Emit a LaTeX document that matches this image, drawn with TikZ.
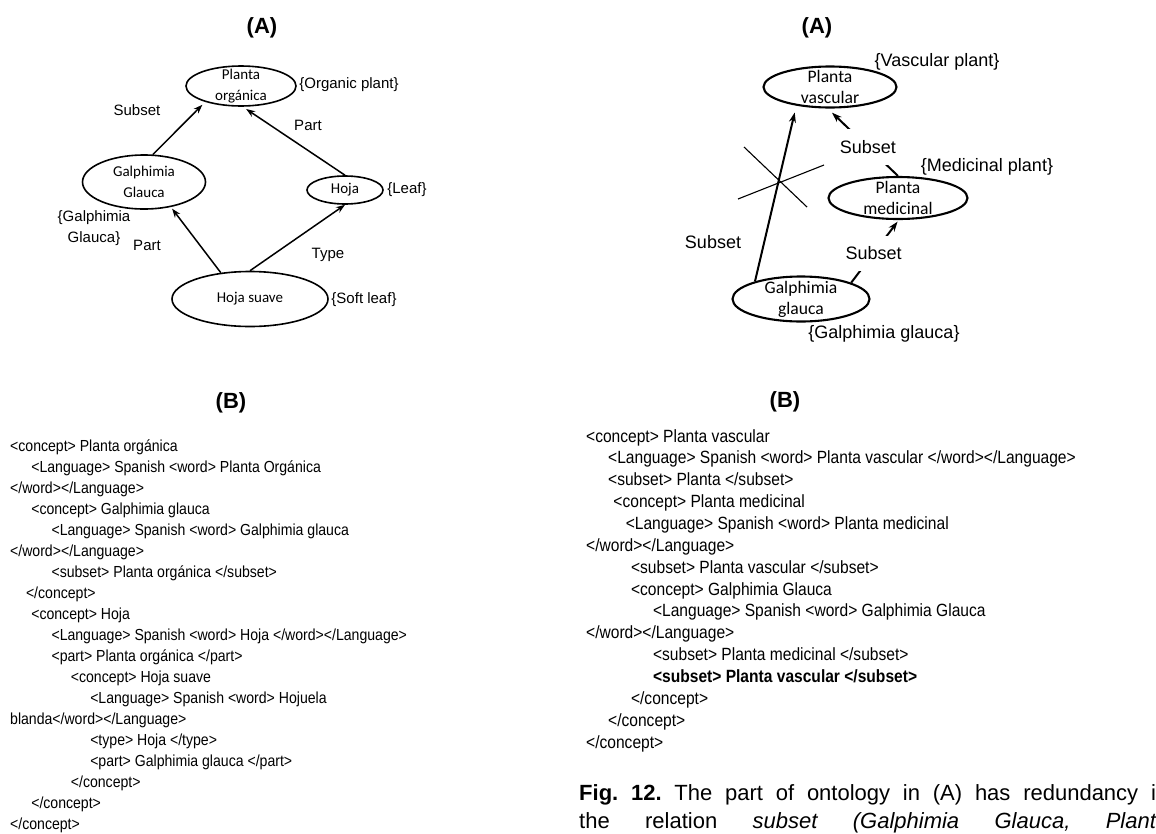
\documentclass[tikz,border=0pt]{standalone}
\usepackage{fontspec}
\setmainfont{Liberation Sans}
\newfontfamily\calib{Carlito}
\usetikzlibrary{shapes,arrows.meta}

\tikzset{
  lcon/.style={draw, ellipse, line width=1.6pt, inner sep=0pt},
  rcon/.style={draw, ellipse, line width=2.1pt, inner sep=0pt},
  ltxt/.style={align=center, font=\calib\fontsize{15}{20.5}\selectfont},
  rtxt/.style={align=center, font=\calib\fontsize{17.6}{21}\selectfont},
  llbl/.style={align=center, font=\fontsize{15}{21}\selectfont, inner sep=0pt},
  rlbl/.style={align=center, font=\fontsize{18}{22}\selectfont, inner sep=0pt},
  larr/.style={-{Stealth[length=9pt,width=6.5pt]}, line width=1.5pt},
  rarr/.style={-{Stealth[length=10pt,width=7pt]}, line width=2pt},
  code/.style={anchor=north west, align=left, inner sep=0pt, xscale=.88, transform shape},
  ttl/.style={font=\bfseries\fontsize{22}{26}\selectfont}
}

\begin{document}
\begin{tikzpicture}[x=1pt, y=-1pt]
\useasboundingbox (0,0) rectangle (1156,833);
\fill[white] (0,0) rectangle (1156,833);
\clip (0,0) rectangle (1156,833);

% left ontology
\node[ttl] (tA1) at (262,28) {(A)};
\node[lcon, minimum width=110pt, minimum height=40pt, label={[ltxt]center:Planta\\orgánica}] (po) at (241,86) {};
\node[lcon, minimum width=123pt, minimum height=54pt, label={[ltxt]center:Galphimia\\Glauca}] (gg) at (144,182) {};
\node[lcon, minimum width=76pt, minimum height=28pt, label={[ltxt]center:Hoja}] (ho) at (345,190) {};
\node[lcon, minimum width=156pt, minimum height=55pt, label={[ltxt]center:Hoja suave}] (hs) at (250,299) {};
\node[llbl] (eorg) at (349,85) {\{Organic plant\}};
\node[llbl] (egal) at (94,228) {\{Galphimia\\Glauca\}};
\node[llbl] (eleaf) at (407,190) {\{Leaf\}};
\node[llbl] (esoft) at (364,300) {\{Soft leaf\}};
\node[llbl] (lsub) at (137,110) {Subset};
\node[llbl] (lpart1) at (308,125) {Part};
\node[llbl] (lpart2) at (147,245) {Part};
\node[llbl] (ltype) at (328,255) {Type};
\draw[larr, shorten >=4pt] (gg.72) -- (po.204);
\draw[larr, shorten >=4pt] (ho.north) -- (po.-85);
\draw[larr, shorten >=2pt] (hs.138) -- (gg.-43);
\draw[larr] (hs.north) -- (ho.south);

% right ontology
\node[ttl] (tA2) at (817,28) {(A)};
\node[rcon, minimum width=133pt, minimum height=41pt, label={[rtxt]center:Planta\\vascular}] (pv) at (830,87) {};
\node[rcon, minimum width=139pt, minimum height=42pt, label={[rtxt]center:Planta\\medicinal}] (pm) at (898,198) {};
\node[rcon, minimum width=137pt, minimum height=45pt, label={[rtxt]center:Galphimia\\glauca}] (gr) at (801,299) {};
\node[rlbl] (evasc) at (937,62) {\{Vascular plant\}};
\node[rlbl] (emed) at (987,167) {\{Medicinal plant\}};
\node[rlbl] (egal2) at (884,334) {\{Galphimia glauca\}};
\node[rlbl] (rsub) at (713,242) {Subset};
\draw[rarr, shorten >=7pt] (gr.159) -- (pv.209);
\draw[rarr, shorten >=6pt] (pm.north) -- node[rlbl, pos=.43, fill=white, inner xsep=1pt, inner ysep=11pt] (rsub1) {Subset} (pv.264);
\draw[rarr, shorten >=2pt] (gr.18) -- node[rlbl, pos=.47, fill=white, inner xsep=1pt, inner ysep=11pt] (rsub2) {Subset} (pm.-88);
% crossed out
\draw[line width=1.1pt] (744,147) -- (807,207) (738,199) -- (824,165);

% xml listings
\node[ttl] (tB1) at (231,403) {(B)};
\node[ttl] (tB2) at (785,402) {(B)};
\node[code, font=\fontsize{16}{21}\selectfont] (xmlL) at (10,440) {%
<concept> Planta orgánica\\
\hspace*{24pt}<Language> Spanish <word> Planta Orgánica\\
</word></Language>\\
\hspace*{24pt}<concept> Galphimia glauca\\
\hspace*{47pt}<Language> Spanish <word> Galphimia glauca\\
</word></Language>\\
\hspace*{47pt}<subset> Planta orgánica </subset>\\
\hspace*{18pt}</concept>\\
\hspace*{24pt}<concept> Hoja\\
\hspace*{47pt}<Language> Spanish <word> Hoja </word></Language>\\
\hspace*{47pt}<part> Planta orgánica </part>\\
\hspace*{69pt}<concept> Hoja suave\\
\hspace*{91pt}<Language> Spanish <word> Hojuela\\
blanda</word></Language>\\
\hspace*{91pt}<type> Hoja </type>\\
\hspace*{91pt}<part> Galphimia glauca </part>\\
\hspace*{69pt}</concept>\\
\hspace*{24pt}</concept>\\
</concept>};
\node[code, font=\fontsize{17.7}{21.86}\selectfont] (xmlR) at (586,429) {%
<concept> Planta vascular\\
\hspace*{25pt}<Language> Spanish <word> Planta vascular </word></Language>\\
\hspace*{25pt}<subset> Planta </subset>\\
\hspace*{31pt}<concept> Planta medicinal\\
\hspace*{45pt}<Language> Spanish <word> Planta medicinal\\
</word></Language>\\
\hspace*{51pt}<subset> Planta vascular </subset>\\
\hspace*{51pt}<concept> Galphimia Glauca\\
\hspace*{76pt}<Language> Spanish <word> Galphimia Glauca\\
</word></Language>\\
\hspace*{76pt}<subset> Planta medicinal </subset>\\
\hspace*{76pt}\textbf{<subset> Planta vascular </subset>}\\
\hspace*{51pt}</concept>\\
\hspace*{25pt}</concept>\\
</concept>};

% caption
\node[anchor=base west, inner sep=0pt, font=\frenchspacing\fontsize{22}{28}\selectfont] (cap1) at (579,800)
  {\makebox[589pt][s]{\textbf{Fig. 12.} The part of ontology in (A) has redundancy in}};
\node[anchor=base west, inner sep=0pt, font=\frenchspacing\fontsize{22}{28}\selectfont] (cap2) at (579,828)
  {\makebox[589pt][s]{the relation \textit{subset (Galphimia Glauca, Planta}}};
\end{tikzpicture}
\end{document}
